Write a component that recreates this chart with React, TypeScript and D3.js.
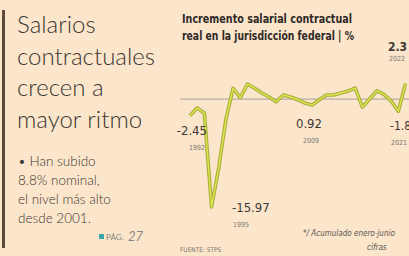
import React, { useEffect, useRef } from "react";
import * as d3 from "d3";

// incremento salarial contractual real, jurisdicción federal (%)
const years = [1992, 1993, 1994, 1995, 1996, 1997, 1998, 1999, 2000, 2001, 2002, 2003, 2004, 2005, 2006, 2007, 2008, 2009, 2010, 2011, 2012, 2013, 2014, 2015, 2016, 2017, 2018, 2019, 2020, 2021, 2022];
const values = [-2.45, -1.3, -2.1, -15.97, -10.2, -3.0, 1.6, 0.2, 2.2, 1.6, 0.9, 0.3, -0.4, 0.6, 0.3, -0.1, -0.6, -0.9, -0.1, 0.6, 0.6, 0.9, 1.2, 1.6, -1.2, 0.0, 1.2, 0.7, -0.3, -1.8, 2.3];

const titleLines = ["Salarios", "contractuales", "crecen a", "mayor ritmo"];
const bodyLines = ["• Han subido", "8.8% nominal,", "el nivel más alto", "desde 2001."];
const chartTitle = ["Incremento salarial contractual", "real en la jurisdicción federal | %"];

// etiquetas: [año, texto valor, texto año]
const labels: [number, string, string][] = [
  [1992, "-2.45", "1992"],
  [1995, "-15.97", "1995"],
  [2009, "0.92", "2009"],
  [2021, "-1.8", "2021"],
  [2022, "2.3", "2022"],
];

const W = 409;
const H = 256;

const App = () => {
  const ref = useRef<SVGSVGElement>(null);

  useEffect(() => {
    drawChart();
  }, []);

  const drawChart = () => {
    const svg = d3.select(ref.current);
    svg.selectAll("*").remove();

    svg.append("rect").attr("width", W).attr("height", H).attr("fill", "#fbe5cb");

    // barra vertical izquierda
    svg.append("rect").attr("x", 2).attr("y", 10).attr("width", 3).attr("height", 238).attr("fill", "#5f4b3b");

    // titular
    svg.append("g")
      .selectAll("text")
      .data(titleLines)
      .enter()
      .append("text")
      .attr("x", 17)
      .attr("y", (d, i) => 33 + i * 31.5)
      .attr("font-family", "Lato, sans-serif")
      .attr("font-weight", 300)
      .attr("font-size", 24)
      .attr("fill", "#3b3733")
      .text((d) => d);

    svg.append("g")
      .selectAll("text")
      .data(bodyLines)
      .enter()
      .append("text")
      .attr("x", 18)
      .attr("y", (d, i) => 166 + i * 19)
      .attr("font-family", "Lato, sans-serif")
      .attr("font-weight", 300)
      .attr("font-size", 13.5)
      .attr("fill", "#3b3733")
      .text((d) => d);

    // referencia de página
    svg.append("rect").attr("x", 99).attr("y", 234).attr("width", 5).attr("height", 5).attr("fill", "#3aa6b0");
    svg.append("text").attr("x", 106).attr("y", 240).attr("font-family", "Lato, sans-serif")
      .attr("font-size", 8).attr("fill", "#8a8580").text("PÁG.");
    svg.append("text").attr("x", 128).attr("y", 241).attr("font-family", "Lato, sans-serif")
      .attr("font-size", 13).attr("font-style", "italic").attr("fill", "#8a8580").text("27");

    // título de la gráfica
    svg.append("g")
      .selectAll("text")
      .data(chartTitle)
      .enter()
      .append("text")
      .attr("x", 182)
      .attr("y", (d, i) => 23 + i * 17)
      .attr("font-family", "'Liberation Sans Narrow', 'DejaVu Sans Condensed', sans-serif")
      .attr("font-weight", "bold")
      .attr("font-size", 12)
      .attr("textLength", (d, i) => (i === 0 ? 170 : 172))
      .attr("lengthAdjust", "spacingAndGlyphs")
      .attr("fill", "#2f2a26")
      .text((d) => d);

    const x = d3.scaleLinear().domain([1992, 2022]).range([190, 405.5]);
    const y = d3.scaleLinear().domain([-15.97, 2.3]).range([207, 83.5]);

    svg.append("line")
      .attr("x1", 180).attr("x2", W)
      .attr("y1", y(0)).attr("y2", y(0))
      .attr("stroke", "#b8aea6").attr("stroke-width", 1.3);

    const line = d3.line<number>()
      .x((d, i) => x(years[i]))
      .y((d) => y(d))
      .curve(d3.curveLinear);

    svg.append("path")
      .attr("d", line(values))
      .attr("fill", "none")
      .attr("stroke", "#a8ad3e")
      .attr("stroke-width", 3.6)
      .attr("stroke-linejoin", "round");
    svg.append("path")
      .attr("d", line(values))
      .attr("fill", "none")
      .attr("stroke", "#dde64c")
      .attr("stroke-width", 1.4)
      .attr("stroke-linejoin", "round");

    // posiciones de etiquetas
    const pos: Record<string, [number, number, string]> = {
      "1992": [207, 135, "end"],
      "1995": [232, 212, "start"],
      "2009": [309, 128, "middle"],
      "2021": [390, 130, "start"],
      "2022": [388, 51, "start"],
    };
    const narrow = "'Liberation Sans Narrow', 'DejaVu Sans Condensed', sans-serif";
    labels.forEach(([yr, v, t]) => {
      const [lx, ly, anchor] = pos[t];
      svg.append("text")
        .attr("x", lx).attr("y", ly)
        .attr("text-anchor", anchor)
        .attr("font-family", narrow)
        .attr("font-size", yr >= 2021 ? 12 : 13)
        .attr("font-weight", yr === 2022 ? "bold" : "normal")
        .attr("fill", "#3d3935")
        .text(v);
      svg.append("text")
        .attr("x", anchor === "end" ? lx - 2 : anchor === "middle" ? lx + 2 : lx + 1)
        .attr("y", ly + (yr === 2022 ? 9.5 : 15))
        .attr("text-anchor", anchor)
        .attr("font-family", narrow)
        .attr("font-size", 7)
        .attr("fill", "#7d7670")
        .text(t);
    });

    svg.append("text").attr("x", 180).attr("y", 252).attr("font-family", narrow)
      .attr("font-size", 6.5).attr("fill", "#7d7670").text("FUENTE: STPS");
    svg.append("text").attr("x", 303).attr("y", 236).attr("font-family", narrow)
      .attr("font-size", 8).attr("font-style", "italic").attr("fill", "#5a544f").text("*/ Acumulado enero-junio");
    svg.append("text").attr("x", 367).attr("y", 250).attr("font-family", narrow)
      .attr("font-size", 8).attr("font-style", "italic").attr("fill", "#5a544f").text("cifras");
  };

  return (
    <div>
      <svg ref={ref} width={W} height={H} style={{ position: "absolute", left: 0, top: 0 }} />
    </div>
  );
};

export default App;
